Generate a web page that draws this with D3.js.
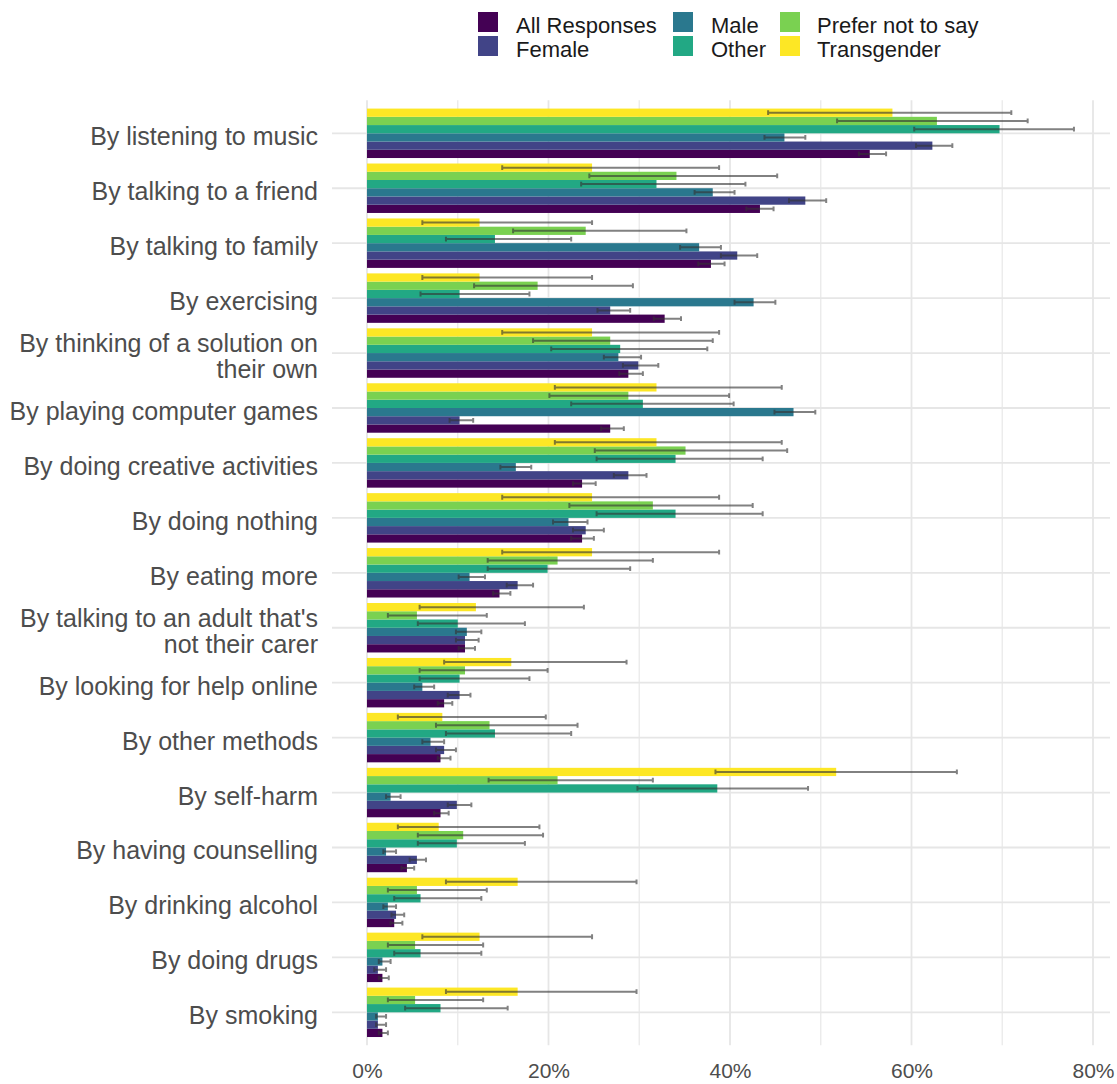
<!DOCTYPE html>
<html>
<head>
<meta charset="utf-8">
<script src="https://cdn.jsdelivr.net/npm/d3@7"></script>
<style>
  html, body { margin: 0; padding: 0; background: #ffffff; }
  svg { display: block; font-family: "Liberation Sans", Arial, sans-serif; }
</style>
</head>
<body>
<svg id="chart" width="1117" height="1084"></svg>
<script>
// Coping strategies, top to bottom
const categories = [
  "By listening to music", "By talking to a friend", "By talking to family",
  "By exercising", "By thinking of a solution on their own", "By playing computer games",
  "By doing creative activities", "By doing nothing", "By eating more",
  "By talking to an adult that's not their carer", "By looking for help online",
  "By other methods", "By self-harm", "By having counselling", "By drinking alcohol",
  "By doing drugs", "By smoking"
];

// Wrapped label lines for the long categories
const labelLines = {
  "By thinking of a solution on their own": ["By thinking of a solution on", "their own"],
  "By talking to an adult that's not their carer": ["By talking to an adult that's", "not their carer"]
};

const seriesNames = ["All Responses", "Female", "Male", "Other", "Prefer not to say", "Transgender"];
const seriesColors = ["#440154", "#414487", "#2A788E", "#22A884", "#7AD151", "#FDE725"];

// Percentages with lower / upper confidence limits, one entry per category
const allResponses   = [55.4, 43.3, 37.9, 32.8, 28.8, 26.8, 23.7, 23.7, 14.6, 10.8, 8.5, 8.1, 8.1, 4.4, 3.0, 1.7, 1.7];
const allResponsesLo = [54.2, 41.8, 36.5, 31.6, 27.8, 25.8, 22.7, 22.5, 13.9, 10.1, 7.8, 7.8, 7.4, 3.8, 2.6, 1.3, 1.3];
const allResponsesHi = [57.2, 44.8, 39.4, 34.6, 30.4, 28.3, 25.2, 25.0, 15.8, 11.9, 9.4, 9.2, 9.0, 5.2, 3.9, 2.4, 2.3];

const female   = [62.3, 48.3, 40.8, 26.8, 29.9, 10.2, 28.8, 24.1, 16.6, 10.8, 10.2, 8.5, 9.9, 5.5, 3.2, 1.2, 1.2];
const femaleLo = [60.5, 46.5, 39.0, 25.4, 28.2, 9.1, 27.2, 22.7, 15.4, 9.8, 8.9, 7.6, 8.9, 4.7, 2.7, 0.8, 1.0];
const femaleHi = [64.5, 50.6, 43.0, 29.0, 32.1, 11.7, 30.8, 26.1, 18.3, 12.3, 11.4, 9.8, 11.5, 6.5, 4.1, 2.1, 2.1];

const male   = [46.0, 38.1, 36.6, 42.6, 27.7, 47.0, 16.4, 22.2, 11.3, 11.0, 6.1, 7.0, 2.6, 2.1, 2.3, 1.7, 1.2];
const maleLo = [43.8, 36.1, 34.5, 40.5, 26.1, 44.9, 14.7, 20.5, 10.1, 9.8, 5.2, 6.1, 2.1, 1.8, 1.8, 1.3, 1.0];
const maleHi = [48.3, 40.5, 39.0, 45.0, 30.2, 49.4, 18.1, 24.3, 13.0, 12.6, 7.4, 8.5, 3.7, 3.2, 3.2, 2.6, 2.1];

const other   = [69.7, 31.9, 14.1, 10.2, 27.9, 30.4, 34.0, 34.0, 19.9, 10.0, 10.2, 14.1, 38.6, 9.9, 5.9, 5.9, 8.1];
const otherLo = [60.3, 23.6, 8.7, 5.9, 20.3, 22.5, 25.3, 25.3, 13.3, 5.6, 5.8, 8.7, 29.8, 5.6, 3.0, 3.0, 4.2];
const otherHi = [77.9, 41.7, 22.5, 17.9, 37.5, 40.4, 43.6, 43.6, 29.0, 17.4, 17.9, 22.5, 48.6, 17.4, 12.6, 12.6, 15.5];

const preferNot   = [62.8, 34.1, 24.1, 18.8, 26.8, 28.8, 35.1, 31.5, 21.0, 5.5, 10.8, 13.5, 21.0, 10.6, 5.5, 5.3, 5.3];
const preferNotLo = [51.8, 24.5, 16.1, 11.8, 18.3, 20.1, 25.1, 22.3, 13.3, 2.3, 5.8, 7.6, 13.4, 5.6, 2.3, 2.3, 2.3];
const preferNotHi = [72.8, 45.2, 35.2, 29.3, 38.1, 39.9, 46.3, 42.5, 31.5, 13.2, 19.9, 23.2, 31.5, 19.4, 13.2, 12.8, 12.8];

const transgender   = [57.9, 24.8, 12.4, 12.4, 24.8, 31.9, 31.9, 24.8, 24.8, 12.0, 15.9, 8.3, 51.7, 7.9, 16.6, 12.4, 16.6];
const transgenderLo = [44.2, 14.9, 6.1, 6.1, 14.9, 20.7, 20.7, 14.9, 14.9, 5.8, 8.5, 3.4, 38.4, 3.4, 8.7, 6.1, 8.7];
const transgenderHi = [71.0, 38.8, 24.8, 24.8, 38.8, 45.7, 45.7, 38.8, 38.8, 23.9, 28.6, 19.7, 65.0, 19.0, 29.7, 24.8, 29.7];

const xTicks = [0, 20, 40, 60, 80];
const xMinorTicks = [10, 30, 50, 70];

const seriesValues = [allResponses, female, male, other, preferNot, transgender];
const seriesLo = [allResponsesLo, femaleLo, maleLo, otherLo, preferNotLo, transgenderLo];
const seriesHi = [allResponsesHi, femaleHi, maleHi, otherHi, preferNotHi, transgenderHi];

// Flat records for drawing
const records = [];
categories.forEach((cat, ci) => {
  seriesNames.forEach((s, si) => {
    records.push({ cat, series: s, si, value: seriesValues[si][ci], lo: seriesLo[si][ci], hi: seriesHi[si][ci] });
  });
});

const svg = d3.select("#chart");

// Panel geometry
const panel = { left: 332, right: 1110, top: 100.3, bottom: 1045.3 };

const x = d3.scaleLinear().domain([0, 80]).range([367, 1093]);
const yCenter = d3.scalePoint().domain(categories).range([133.3, 1012.3]);
const step = yCenter.step();
const groupHeight = step * 0.9;
// First series sits at the bottom of each group
const ySub = d3.scaleBand().domain(seriesNames).range([groupHeight / 2, -groupHeight / 2]).padding(0);

const color = d3.scaleOrdinal().domain(seriesNames).range(seriesColors);

// Grid
const grid = svg.append("g");
grid.selectAll(".vminor").data(xMinorTicks).join("line")
  .attr("x1", d => x(d)).attr("x2", d => x(d))
  .attr("y1", panel.top).attr("y2", panel.bottom)
  .attr("stroke", "#ebebeb").attr("stroke-width", 1.4);
grid.selectAll(".vmajor").data(xTicks).join("line")
  .attr("x1", d => x(d)).attr("x2", d => x(d))
  .attr("y1", panel.top).attr("y2", panel.bottom)
  .attr("stroke", "#e6e6e6").attr("stroke-width", 1.8);
grid.selectAll(".hmajor").data(categories).join("line")
  .attr("x1", panel.left).attr("x2", panel.right)
  .attr("y1", d => yCenter(d)).attr("y2", d => yCenter(d))
  .attr("stroke", "#e6e6e6").attr("stroke-width", 1.8);

// Bars
svg.append("g").selectAll("rect").data(records).join("rect")
  .attr("x", x(0))
  .attr("y", d => yCenter(d.cat) + ySub(d.series))
  .attr("width", d => x(d.value) - x(0))
  .attr("height", ySub.bandwidth())
  .attr("fill", d => color(d.series));

// Error bars
const err = svg.append("g")
  .attr("stroke", "#333333").attr("stroke-opacity", 0.62).attr("stroke-width", 2).attr("fill", "none");
const cap = 2.4;
const errs = err.selectAll("g").data(records).join("g")
  .attr("transform", d => `translate(0,${yCenter(d.cat) + ySub(d.series) + ySub.bandwidth() / 2})`);
errs.append("path")
  .attr("d", d => `M${x(d.lo)},${-cap}V${cap}M${x(d.lo)},0H${x(d.hi)}M${x(d.hi)},${-cap}V${cap}`);

// Y axis labels
const yLab = svg.append("g").attr("font-size", 25).attr("fill", "#4d4d4d").attr("text-anchor", "end");
categories.forEach(cat => {
  const c = yCenter(cat);
  const lines = labelLines[cat] || [cat];
  if (lines.length === 1) {
    yLab.append("text").attr("x", 318).attr("y", c + 12).text(lines[0]);
  } else {
    yLab.append("text").attr("x", 318).attr("y", c - 1).text(lines[0]);
    yLab.append("text").attr("x", 318).attr("y", c + 25).text(lines[1]);
  }
});

// X axis
const xAxis = d3.axisBottom(x).tickValues(xTicks).tickFormat(d => d + "%").tickSize(0).tickPadding(0);
const gx = svg.append("g").attr("transform", "translate(0,1060)").call(xAxis);
gx.select(".domain").remove();
gx.selectAll("text").attr("font-size", 21).attr("fill", "#4d4d4d")
  .attr("font-family", "'Liberation Sans', Arial, sans-serif").attr("dy", "0.85em");

// Legend: three columns of two
const legendCols = [478, 673, 780];
const legendTextX = [516, 711, 817];
const legendRows = [12, 36];
const legend = svg.append("g");
seriesNames.forEach((s, i) => {
  const col = Math.floor(i / 2), row = i % 2;
  legend.append("rect")
    .attr("x", legendCols[col]).attr("y", legendRows[row])
    .attr("width", 20).attr("height", 20).attr("fill", color(s));
  legend.append("text")
    .attr("x", legendTextX[col]).attr("y", legendRows[row] + 21)
    .attr("font-size", 22).attr("fill", "#1a1a1a").text(s);
});
</script>
</body>
</html>
